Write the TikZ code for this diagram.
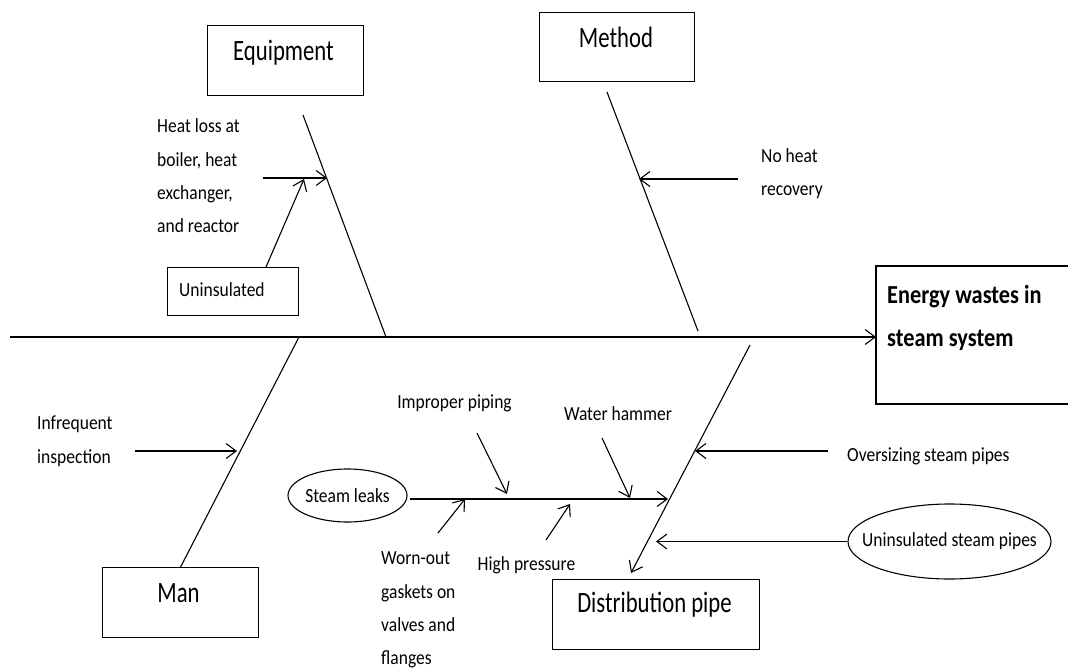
\documentclass[tikz,border=0pt]{standalone}
\usepackage{fontspec}
\setmainfont{Carlito}
\newfontfamily\capfont{Carlito}[FakeStretch=0.77]
\newfontfamily\causefont{Carlito}[FakeStretch=0.875]
\newfontfamily\headfont{Carlito}[FakeStretch=0.86]
\usetikzlibrary{arrows.meta,shapes.geometric}

\tikzset{
  catbox/.style={draw, line width=1.2pt, inner sep=0pt, anchor=north west},
  catlabel/.style={font=\capfont\fontsize{29.5}{35}\selectfont, inner sep=0pt, anchor=base},
  cause/.style={font=\causefont\fontsize{20}{33.3}\selectfont, inner sep=0pt, align=left},
  oval/.style={draw, ellipse, line width=1.1pt, inner xsep=-20pt, inner ysep=0pt,
               font=\causefont\fontsize{20}{23}\selectfont},
  bone/.style={line width=1.1pt},
  arr/.style={line width=1.1pt, -{Straight Barb[length=10pt,width=15pt]}},
}

\begin{document}
\begin{tikzpicture}[x=1pt,y=-1pt]
\useasboundingbox[fill=white] (0,0) rectangle (1068,669);

% ---- category boxes ----
\node[catbox, minimum width=156pt, minimum height=70pt] (equip) at (207,25) {};
\node[catlabel] (equipL) at (283.5,60.5) {Equipment};
\node[catbox, minimum width=155pt, minimum height=69pt] (method) at (539,12) {};
\node[catlabel] (methodL) at (616,47.5) {Method};
\node[catbox, minimum width=156pt, minimum height=70pt] (man) at (102,567) {};
\node[catlabel] (manL) at (178.5,602.5) {Man};
\node[catbox, minimum width=207pt, minimum height=70pt] (dist) at (552,579) {};
\node[catlabel] (distL) at (654.5,612.5) {Distribution pipe};

% ---- effect box (right side runs off the page) ----
\draw[line width=1.2pt] (1069,266) -- (876,266) -- (876,404) -- (1069,404);
\node[font=\headfont\bfseries\fontsize{26}{43.5}\selectfont, inner sep=0pt,
      align=left, anchor=west] (effect) at (887,318) {Energy wastes in\\steam system};

% ---- spine ----
\coordinate (tail) at (10,337);
\coordinate (head) at (876,337);
\draw[arr] (tail) -- (head);

% ---- main bones ----
\coordinate (eqTop) at (303,115);  \coordinate (eqFoot) at (386,337);
\coordinate (meTop) at (607,92);   \coordinate (meFoot) at (698,331);
\coordinate (maTop) at (299,337);
\coordinate (diTop) at (750,345);  \coordinate (diTip) at (631,573);
\draw[bone] (eqTop) -- (eqFoot);
\draw[bone] (meTop) -- (meFoot);
\draw[bone] (maTop) -- (man.north);
\draw[arr] (diTop) -- (diTip);

% ---- equipment causes ----
\node[cause, anchor=west] (heat) at (157,176) {Heat loss at\\boiler, heat\\exchanger,\\and reactor};
\node[catbox, line width=1.1pt, minimum width=131pt, minimum height=48pt] (unins) at (167,267) {};
\node[cause, anchor=base west] (uninsL) at (179,296.5) {Uninsulated};
\coordinate (heatS) at (263,178);  \coordinate (heatE) at (327,178);
\coordinate (uninsS) at (266,267); \coordinate (uninsE) at (304,179);
\draw[arr] (heatS) -- (heatE);
\draw[arr] (uninsS) -- (uninsE);

% ---- method cause ----
\node[cause, anchor=west] (recov) at (761,173.5) {No heat\\recovery};
\coordinate (recovS) at (738,179); \coordinate (recovE) at (639,179);
\draw[arr] (recovS) -- (recovE);

% ---- man cause ----
\node[cause, anchor=west] (insp) at (37,441.3) {Infrequent\\inspection};
\coordinate (inspS) at (135,451); \coordinate (inspE) at (237,451);
\draw[arr] (inspS) -- (inspE);

% ---- distribution pipe causes ----
\node[cause, anchor=base west] (over) at (847,461) {Oversizing steam pipes};
\coordinate (overS) at (828,451); \coordinate (overE) at (695,451);
\draw[arr] (overS) -- (overE);

\node[oval, minimum width=203pt, minimum height=75pt] (usp) at (949.5,541.5) {Uninsulated steam pipes};
\coordinate (uspE) at (656,541.5);
\draw[arr] (usp.west) -- (uspE);

% ---- steam leaks sub-branch ----
\node[oval, minimum width=119pt, minimum height=53pt] (leaks) at (347.5,495.5) {Steam leaks};
\coordinate (leakS) at (410,499); \coordinate (leakE) at (668,499);
\draw[arr] (leakS) -- (leakE);

\node[cause, anchor=base] (improper) at (454.5,408) {Improper piping};
\coordinate (impS) at (477,433); \coordinate (impE) at (507,494);
\draw[arr] (impS) -- (impE);

\node[cause, anchor=base] (hammer) at (618,420) {Water hammer};
\coordinate (hamS) at (602,438); \coordinate (hamE) at (630,498);
\draw[arr] (hamS) -- (hamE);

\node[cause, anchor=west] (worn) at (381,610) {Worn-out\\gaskets on\\valves and\\flanges};
\coordinate (wornS) at (438,533); \coordinate (wornE) at (465,499);
\draw[arr] (wornS) -- (wornE);

\node[cause, anchor=base] (press) at (526.5,570) {High pressure};
\coordinate (presS) at (546,540); \coordinate (presE) at (570,504);
\draw[arr] (presS) -- (presE);
\end{tikzpicture}
\end{document}
